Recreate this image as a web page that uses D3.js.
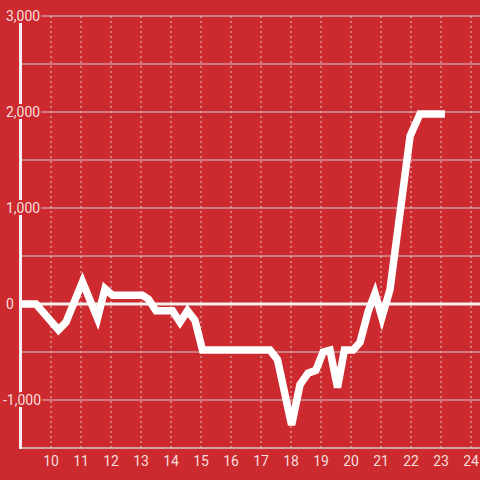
<!DOCTYPE html>
<html><head><meta charset="utf-8">
<script src="https://cdn.jsdelivr.net/npm/d3@7"></script>
<style>html,body{margin:0;padding:0;background:#cc2a2e;}svg{display:block;}</style>
</head><body>
<script>
const xValues = [9, 9.5, 10.25, 10.5, 11.05, 11.55, 11.8, 12.05, 13.05, 13.25, 13.5, 14.05, 14.3, 14.55, 14.8, 15.05, 17.3, 17.55, 18.02, 18.3, 18.57, 18.83, 19.07, 19.3, 19.55, 19.78, 20.07, 20.3, 20.57, 20.8, 21.03, 21.3, 21.97, 22.3, 23.13];
const yValues = [0, 0, -270, -190, 230, -150, 160, 90, 90, 50, -70, -70, -190, -70, -170, -480, -480, -580, -1260, -840, -720, -690, -500, -480, -870, -480, -480, -400, -80, 110, -140, 150, 1750, 1980, 1980];
const yTicks = [-1000, 0, 1000, 2000, 3000];
const yGrid = [-1000, -500, 500, 1000, 1500, 2000, 2500, 3000];
const xTicks = [10, 11, 12, 13, 14, 15, 16, 17, 18, 19, 20, 21, 22, 23, 24];

const W = 480, H = 480;
const bg = "#cc2a2e";
const svg = d3.select("body").append("svg").attr("width", W).attr("height", H);
svg.append("rect").attr("width", W).attr("height", H).attr("fill", bg);

const x = d3.scaleLinear().domain([9, 24.3]).range([21, 480]);
const y = d3.scaleLinear().domain([-1500, 3000]).range([448, 16]);
const fmt = d3.formatLocale({decimal: ".", thousands: ",", grouping: [3], currency: ["$", ""], minus: "-"}).format(",");

// vertical dotted grid
svg.append("g").selectAll("line").data(xTicks).join("line")
  .attr("x1", d => x(d)).attr("x2", d => x(d)).attr("y1", 16).attr("y2", 448)
  .attr("stroke", "#e8c8c8").attr("stroke-width", 1).attr("stroke-dasharray", "2,3");

// horizontal grid
svg.append("g").selectAll("line").data(yGrid).join("line")
  .attr("x1", 20).attr("x2", W).attr("y1", d => y(d)).attr("y2", d => y(d))
  .attr("stroke", "#d4cccc").attr("stroke-width", 1.2);

// bottom axis line
svg.append("line").attr("x1", 20).attr("x2", W).attr("y1", 448).attr("y2", 448)
  .attr("stroke", "#d4cccc").attr("stroke-width", 1.5);

// zero line
svg.append("line").attr("x1", 20).attr("x2", W).attr("y1", y(0)).attr("y2", y(0))
  .attr("stroke", "#f4f0f0").attr("stroke-width", 3);

// left axis line
svg.append("line").attr("x1", 20.5).attr("x2", 20.5).attr("y1", 22).attr("y2", 449)
  .attr("stroke", "#f4f0f0").attr("stroke-width", 3);

// data line
const line = d3.line().x((d, i) => x(xValues[i])).y(d => y(d));
svg.append("path").datum(yValues).attr("d", line)
  .attr("fill", "none").attr("stroke", "#ffffff").attr("stroke-width", 7.5)
  .attr("stroke-linejoin", "miter").attr("stroke-linecap", "butt");

// y labels with halo
svg.append("g").selectAll("text").data(yTicks).join("text")
  .attr("x", d => d < 0 ? 3 : 6).attr("y", d => y(d)).attr("dy", "0.36em")
  .attr("font-family", "Roboto, 'Liberation Sans', sans-serif").attr("font-size", 14)
  .attr("fill", "#f6dede").attr("stroke", bg).attr("stroke-width", 4)
  .attr("paint-order", "stroke").attr("stroke-linejoin", "round")
  .text(d => fmt(d));

// x labels
svg.append("g").selectAll("text").data(xTicks).join("text")
  .attr("x", d => x(d)).attr("y", 461).attr("dy", "0.36em").attr("text-anchor", "middle")
  .attr("font-family", "Roboto, 'Liberation Sans', sans-serif").attr("font-size", 14)
  .attr("fill", "#f6dede").text(d => d);
</script>
</body></html>
